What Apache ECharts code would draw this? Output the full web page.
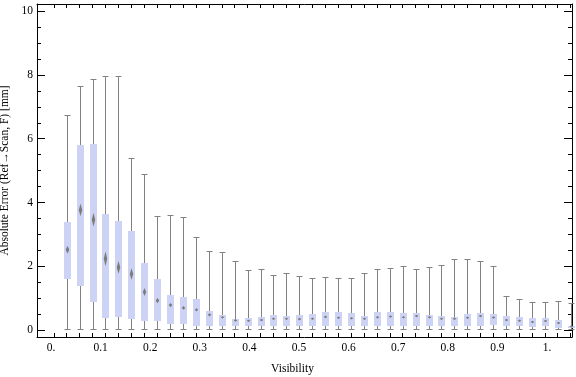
<!DOCTYPE html>
<html>
<head>
<meta charset="utf-8">
<script src="https://cdn.jsdelivr.net/npm/echarts@6/dist/echarts.min.js"></script>
<style>
  html, body { margin: 0; padding: 0; background: #fff; }
  #chart { width: 576px; height: 377px; }
</style>
</head>
<body>
<div id="chart"></div>
<script>
// box positions on the visibility axis
const visibility = [0.025, 0.05, 0.075, 0.1, 0.125, 0.15, 0.175, 0.2, 0.225, 0.25,
  0.275, 0.3, 0.325, 0.35, 0.375, 0.4, 0.425, 0.45, 0.475, 0.5,
  0.525, 0.55, 0.575, 0.6, 0.625, 0.65, 0.675, 0.7, 0.725, 0.75,
  0.775, 0.8, 0.825, 0.85, 0.875, 0.9, 0.925, 0.95, 0.975, 1.0]
const whiskerMin = [0, 0, 0, 0, 0, 0, 0, 0, 0, 0, 0, 0, 0, 0, 0, 0, 0, 0, 0, 0,
  0, 0, 0, 0, 0, 0, 0, 0, 0, 0, 0, 0, 0, 0, 0, 0, 0, 0, 0, 0]
const quart1 = [1.61, 1.40, 0.88, 0.38, 0.43, 0.35, 0.28, 0.28, 0.21, 0.21,
  0.12, 0.15, 0.15, 0.12, 0.12, 0.12, 0.15, 0.12, 0.12, 0.15,
  0.12, 0.12, 0.12, 0.12, 0.12, 0.15, 0.12, 0.15, 0.15, 0.12,
  0.12, 0.12, 0.15, 0.18, 0.15, 0.12, 0.09, 0.12, 0.06, 0.06]
const median = [2.52, 3.77, 3.46, 2.24, 1.97, 1.76, 1.20, 0.93, 0.79, 0.70,
  0.64, 0.485, 0.41, 0.31, 0.30, 0.32, 0.36, 0.36, 0.35, 0.36,
  0.42, 0.39, 0.38, 0.36, 0.41, 0.43, 0.41, 0.45, 0.41, 0.36,
  0.36, 0.39, 0.45, 0.40, 0.32, 0.30, 0.26, 0.29, 0.23, 0.12]
const quart3 = [3.40, 5.81, 5.84, 3.65, 3.43, 3.11, 2.11, 1.61, 1.11, 1.05,
  0.99, 0.61, 0.485, 0.36, 0.39, 0.42, 0.485, 0.45, 0.485, 0.52,
  0.58, 0.58, 0.55, 0.45, 0.58, 0.58, 0.55, 0.55, 0.485, 0.45,
  0.42, 0.52, 0.55, 0.52, 0.45, 0.42, 0.39, 0.39, 0.33, 0.15]
const whiskerMax = [6.75, 7.65, 7.88, 7.97, 7.95, 5.39, 4.89, 3.58, 3.60, 3.55,
  2.93, 2.48, 2.45, 2.18, 1.89, 1.92, 1.73, 1.79, 1.70, 1.63,
  1.67, 1.63, 1.63, 1.79, 1.92, 1.95, 2.01, 1.92, 1.98, 2.04,
  2.23, 2.23, 2.17, 2.01, 1.07, 0.98, 0.88, 0.88, 0.91, 0.85]
// half height of the diamond marker round the median
const spread = [0.125, 0.2, 0.22, 0.23, 0.2, 0.18, 0.125, 0.08, 0.065, 0.06,
  0.05, 0.05, 0.04, 0.04, 0.04, 0.04, 0.04, 0.04, 0.04, 0.04,
  0.04, 0.04, 0.04, 0.04, 0.04, 0.04, 0.04, 0.04, 0.04, 0.04,
  0.04, 0.04, 0.04, 0.04, 0.04, 0.04, 0.04, 0.04, 0.04, 0.04]

const xLabelValues = [0, 0.1, 0.2, 0.3, 0.4, 0.5, 0.6, 0.7, 0.8, 0.9, 1.0]
const xTickLabels = ['0.', '0.1', '0.2', '0.3', '0.4', '0.5', '0.6', '0.7', '0.8', '0.9', '1.']
const yMajorTicks = [0, 2, 4, 6, 8, 10]
const yMinorTicks = [0, 0.5, 1, 1.5, 2, 2.5, 3, 3.5, 4, 4.5, 5, 5.5, 6, 6.5, 7, 7.5, 8, 8.5, 9, 9.5, 10]

const xTickValues = [0].concat(visibility)
const boxData = visibility.map((v, i) => [v, whiskerMin[i], quart1[i], median[i], quart3[i], whiskerMax[i], spread[i]])

const font = 'Liberation Serif'
const fontSize = 11.5
const frameLine = { show: true, onZero: false, lineStyle: { color: '#000', width: 1 } }

const chart = echarts.init(document.getElementById('chart'))
chart.setOption({
  animation: false,
  grid: { left: 37, right: 4, top: 4, bottom: 40, containLabel: false, outerBoundsMode: 'none' },
  xAxis: [
    {
      type: 'value', position: 'bottom', min: -0.03244, max: 1.00257,
      axisLine: frameLine,
      axisTick: { inside: true, length: 4, customValues: xTickValues, lineStyle: { color: '#000' } },
      axisLabel: { show: false },
      splitLine: { show: false }
    },
    {
      type: 'value', position: 'top', min: -0.03244, max: 1.00257,
      axisLine: frameLine,
      axisTick: { inside: true, length: 4, customValues: xTickValues, lineStyle: { color: '#000' } },
      axisLabel: { show: false },
      splitLine: { show: false }
    },
    {
      // labels only, placed where the original draws them
      type: 'value', position: 'bottom', min: -0.02823, max: 1.0504,
      axisLine: { show: false, onZero: false },
      axisTick: { show: false },
      splitLine: { show: false },
      axisLabel: {
        margin: 5, color: '#000', fontFamily: font, fontSize: fontSize,
        customValues: xLabelValues,
        formatter: (v) => xTickLabels[xLabelValues.findIndex(t => Math.abs(t - v) < 1e-6)]
      },
      name: 'Visibility', nameLocation: 'middle', nameGap: 26,
      nameTextStyle: { color: '#000', fontFamily: font, fontSize: fontSize, padding: [0, 24, 0, 0] }
    }
  ],
  yAxis: [
    {
      type: 'value', position: 'left', min: -0.21, max: 10.22,
      axisLine: frameLine,
      axisTick: { inside: true, length: 8, customValues: yMajorTicks, lineStyle: { color: '#000' } },
      axisLabel: { margin: 4, color: '#000', fontFamily: font, fontSize: fontSize, customValues: yMajorTicks },
      splitLine: { show: false },
      name: 'Absolute Error (Ref\u2192Scan, F) [mm]', nameLocation: 'middle', nameGap: 23,
      nameTextStyle: { color: '#000', fontFamily: font, fontSize: fontSize }
    },
    {
      type: 'value', position: 'left', min: -0.21, max: 10.22,
      axisLine: { show: false, onZero: false },
      axisTick: { inside: true, length: 4, customValues: yMinorTicks, lineStyle: { color: '#000' } },
      axisLabel: { show: false },
      splitLine: { show: false }
    },
    {
      type: 'value', position: 'right', min: -0.21, max: 10.22,
      axisLine: frameLine,
      axisTick: { inside: true, length: 8, customValues: yMajorTicks, lineStyle: { color: '#000' } },
      axisLabel: { show: false },
      splitLine: { show: false }
    },
    {
      type: 'value', position: 'right', min: -0.21, max: 10.22,
      axisLine: { show: false, onZero: false },
      axisTick: { inside: true, length: 4, customValues: yMinorTicks, lineStyle: { color: '#000' } },
      axisLabel: { show: false },
      splitLine: { show: false }
    }
  ],
  series: [
    {
      type: 'custom',
      xAxisIndex: 0,
      yAxisIndex: 0,
      data: boxData,
      renderItem: function (params, api) {
        const x = api.value(0)
        const lo = api.coord([x, api.value(1)])
        const q1 = api.coord([x, api.value(2)])
        const md = api.coord([x, api.value(3)])
        const q3 = api.coord([x, api.value(4)])
        const hi = api.coord([x, api.value(5)])
        const dTop = api.coord([x, api.value(3) + api.value(6)])
        const dBot = api.coord([x, api.value(3) - api.value(6)])
        const cx = Math.round(lo[0]) + 0.5
        const boxW = 7
        const capW = 6
        const dW = 3.5
        const yLo = Math.round(lo[1]) - 0.5
        const yHi = Math.round(hi[1]) + 0.5
        const gray = '#828282'
        return {
          type: 'group',
          children: [
            { type: 'line', shape: { x1: cx, y1: yLo, x2: cx, y2: yHi }, style: { stroke: gray, lineWidth: 1 } },
            { type: 'line', shape: { x1: cx - capW / 2, y1: yLo, x2: cx + capW / 2, y2: yLo }, style: { stroke: gray, lineWidth: 1 } },
            { type: 'line', shape: { x1: cx - capW / 2, y1: yHi, x2: cx + capW / 2, y2: yHi }, style: { stroke: gray, lineWidth: 1 } },
            {
              type: 'rect',
              shape: { x: cx - boxW / 2, y: Math.round(q3[1]), width: boxW, height: Math.round(q1[1]) - Math.round(q3[1]) },
              style: { fill: '#cdd3f4' }
            },
            {
              type: 'polygon',
              shape: { points: [[cx, dTop[1]], [cx + dW / 2, md[1]], [cx, dBot[1]], [cx - dW / 2, md[1]]] },
              style: { fill: '#7c7c7c' }
            }
          ]
        }
      }
    }
  ]
})
</script>
</body>
</html>
